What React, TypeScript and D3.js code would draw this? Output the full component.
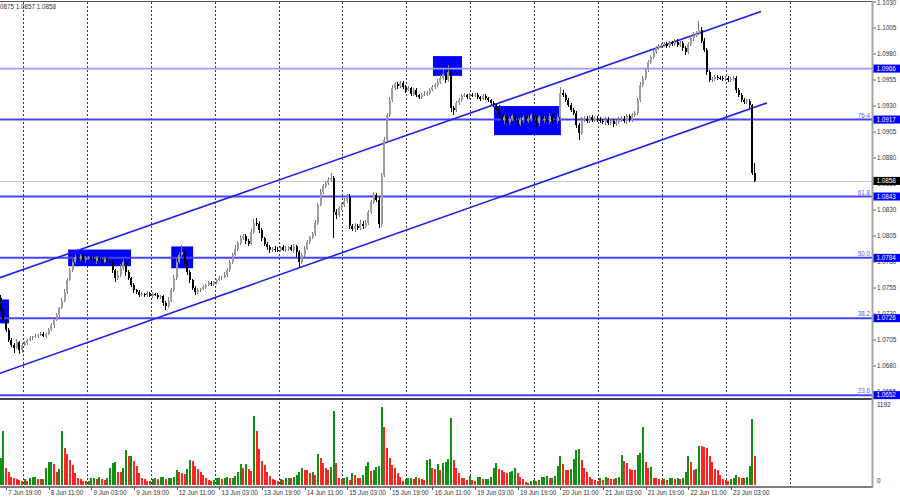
import React from 'react';
import * as d3 from 'd3';

// ---------- data (EURUSD H1, 7 Jun 17:00 → 23 Jun 12:00) ----------
const firstOpen = 1.0745;
const closes = [
  1.0734, 1.0724, 1.0715, 1.0705,
  1.0700, 1.0697, 1.0703, 1.0695, 1.0700,
  1.0702, 1.0705, 1.0707, 1.0708, 1.0709, 1.0710, 1.0711, 1.0709, 1.0711, 1.0715,
  1.0719, 1.0724, 1.0729, 1.0736, 1.0743, 1.0751, 1.0763, 1.0772, 1.0780,
  1.0785, 1.0783, 1.0786, 1.0782, 1.0784, 1.0785, 1.0783, 1.0781, 1.0784, 1.0782, 1.0780, 1.0783, 1.0781, 1.0779,
  1.0772, 1.0765, 1.0768, 1.0774, 1.0780, 1.0770,
  1.0765, 1.0758, 1.0753, 1.0751, 1.0748,
  1.0749, 1.0748, 1.0750, 1.0747, 1.0749, 1.0748, 1.0746, 1.0747,
  1.0741, 1.0738, 1.0743,
  1.0753, 1.0765, 1.0780, 1.0787, 1.0790,
  1.0780, 1.0770, 1.0763, 1.0755, 1.0751,
  1.0753, 1.0754, 1.0756, 1.0758, 1.0760, 1.0759, 1.0761,
  1.0763, 1.0765, 1.0766, 1.0768, 1.0772,
  1.0780, 1.0787, 1.0793, 1.0798, 1.0803, 1.0805, 1.0800,
  1.0797, 1.0809, 1.0818, 1.0817, 1.0811,
  1.0803, 1.0797, 1.0794, 1.0792, 1.0793, 1.0792,
  1.0792, 1.0794, 1.0792, 1.0793, 1.0794, 1.0792, 1.0795, 1.0790, 1.0780,
  1.0787, 1.0793, 1.0799, 1.0804, 1.0807,
  1.0818, 1.0835, 1.0847, 1.0853, 1.0856, 1.0859, 1.0861,
  1.0828, 1.0825,
  1.0832, 1.0835, 1.0839, 1.0843,
  1.0815, 1.0812, 1.0815, 1.0813, 1.0817, 1.0815, 1.0818,
  1.0828, 1.0838, 1.0844, 1.0840, 1.0817,
  1.0864, 1.0897, 1.0921, 1.0936,
  1.0947, 1.0951, 1.0949, 1.0952,
  1.0948, 1.0945, 1.0947, 1.0942, 1.0945, 1.0941, 1.0939,
  1.0941, 1.0942, 1.0943, 1.0945, 1.0948, 1.0950, 1.0953,
  1.0957, 1.0961, 1.0955, 1.0963,
  1.0928, 1.0926,
  1.0933, 1.0936, 1.0940, 1.0941, 1.0939, 1.0941, 1.0940,
  1.0941, 1.0939, 1.0937, 1.0940, 1.0938, 1.0936,
  1.0933, 1.0931, 1.0928,
  1.0921, 1.0917, 1.0919, 1.0915, 1.0918, 1.0920, 1.0917, 1.0913, 1.0917, 1.0919, 1.0916, 1.0918,
  1.0921, 1.0917, 1.0914, 1.0919, 1.0917, 1.0918, 1.0915, 1.0920, 1.0917, 1.0916, 1.0919,
  1.0943, 1.0941, 1.0936,
  1.0931, 1.0926, 1.0923, 1.0912, 1.0904,
  1.0917, 1.0918, 1.0916, 1.0919, 1.0917, 1.0918, 1.0917,
  1.0916, 1.0915, 1.0917, 1.0914, 1.0916, 1.0913, 1.0915, 1.0917,
  1.0918, 1.0916, 1.0920, 1.0917, 1.0921, 1.0923,
  1.0936, 1.0950, 1.0957, 1.0965, 1.0972,
  1.0977, 1.0982, 1.0986, 1.0988,
  1.0989, 1.0990, 1.0988, 1.0991, 1.0990, 1.0992, 1.0989, 1.0991, 1.0986, 1.0982, 1.0990,
  1.0995, 1.0998, 1.1000, 1.1003, 1.0993,
  1.0984, 1.0963,
  1.0955, 1.0956, 1.0958, 1.0957,
  1.0957, 1.0956, 1.0957, 1.0955, 1.0956, 1.0957,
  1.0945, 1.0941, 1.0936, 1.0934, 1.0935, 1.0931,
  1.0866,
  1.0858,
];
// upper / lower shadow lengths in pips
const wickUp = [
  3, 2, 1, 2,
  2, 2, 3, 1, 2,
  2, 1, 2, 1, 2, 1, 2, 2, 1, 2,
  2, 1, 2, 1, 2, 3, 2, 2, 3,
  3, 2, 2, 3, 2, 1, 2, 3, 2, 1, 3, 2, 2, 2,
  2, 1, 3, 4, 3, 2,
  2, 1, 2, 1, 2,
  2, 1, 2, 1, 2, 1, 2, 1,
  1, 2, 3,
  2, 3, 4, 3, 6,
  2, 1, 2, 1, 2,
  2, 1, 2, 1, 2, 2, 1,
  1, 2, 1, 2, 2,
  2, 2, 3, 2, 3, 2, 2,
  2, 3, 3, 4, 2,
  2, 1, 2, 2, 1, 2,
  2, 1, 2, 2, 1, 2, 2, 1, 2,
  2, 2, 2, 1, 2,
  2, 2, 3, 2, 2, 3, 5,
  2, 3,
  2, 2, 3, 2,
  2, 2, 3, 2, 3, 2, 2,
  2, 2, 3, 2, 3,
  2, 3, 2, 3,
  3, 2, 2, 2,
  2, 2, 2, 1, 2, 2, 1,
  2, 2, 1, 2, 2, 2, 3,
  3, 5, 2, 6,
  2, 2,
  2, 2, 2, 2, 1, 2, 2,
  2, 2, 1, 2, 2, 1,
  1, 2, 1,
  3, 2, 2, 3, 2, 2, 2, 3, 2, 2, 3, 2, 2, 3, 2, 2, 3, 2, 2, 3, 2, 2, 3,
  5, 2, 2,
  2, 2, 2, 2, 2,
  2, 2, 2, 2, 2, 2, 2,
  2, 2, 2, 2, 2, 2, 2, 2,
  2, 2, 2, 2, 2, 2,
  2, 3, 2, 2, 2,
  2, 2, 2, 2,
  2, 2, 2, 2, 2, 2, 2, 2, 2, 2, 2,
  2, 3, 2, 9, 3,
  2, 2,
  2, 2, 2, 2,
  2, 2, 2, 2, 2, 2,
  2, 2, 2, 2, 2, 2,
  1,
  9,
];
const wickDn = [
  1, 2, 2, 2,
  2, 4, 1, 3, 2,
  1, 2, 1, 2, 1, 2, 1, 1, 2, 1,
  1, 2, 1, 2, 1, 1, 2, 1, 2,
  2, 3, 2, 2, 3, 2, 2, 1, 3, 2, 2, 1, 2, 2,
  3, 4, 2, 2, 2, 3,
  2, 2, 3, 2, 2,
  1, 2, 2, 1, 2, 1, 2, 2,
  3, 4, 2,
  1, 2, 2, 2, 2,
  2, 2, 3, 2, 3,
  2, 2, 1, 2, 1, 2, 2,
  2, 1, 2, 1, 2,
  2, 2, 1, 2, 2, 2, 3,
  2, 1, 2, 2, 3,
  3, 2, 2, 3, 2, 2,
  2, 2, 1, 2, 2, 1, 3, 5, 6,
  2, 2, 1, 2, 2,
  2, 2, 1, 2, 2, 2, 2,
  25, 4,
  2, 2, 2, 2,
  3, 2, 3, 2, 2, 3, 2,
  2, 2, 2, 2, 4,
  3, 2, 2, 2,
  2, 2, 3, 2,
  2, 2, 1, 2, 2, 2, 2,
  2, 1, 2, 2, 1, 2, 2,
  2, 2, 3, 2,
  4, 5,
  2, 2, 2, 1, 2, 2, 1,
  1, 2, 2, 1, 2, 2,
  2, 2, 2,
  3, 2, 4, 2, 3, 2, 5, 3, 2, 3, 2, 2, 3, 2, 4, 3, 2, 3, 4, 2, 3, 2, 3,
  2, 2, 2,
  2, 2, 2, 3, 7,
  2, 2, 2, 2, 2, 2, 2,
  2, 2, 3, 2, 2, 3, 2, 2,
  2, 2, 3, 2, 2, 2,
  2, 2, 2, 2, 2,
  2, 2, 2, 2,
  2, 2, 2, 2, 2, 2, 2, 2, 3, 3, 2,
  2, 2, 2, 2, 2,
  2, 3,
  2, 2, 2, 2,
  2, 2, 2, 2, 2, 2,
  2, 2, 2, 2, 2, 3,
  2,
  1,
];
const volumes = [
  390, 780, 245, 186, 123, 98, 83, 74, 64, 83,
  64, 108, 113, 115, 83, 80, 88, 245, 333, 335,
  309, 186, 235, 780, 545, 455, 368, 294, 172, 98,
  83, 64, 54, 64, 98, 100, 83, 113, 83, 74,
  98, 245, 319, 333, 196, 186, 245, 515, 416, 426,
  343, 270, 172, 98, 83, 64, 59, 83, 108, 83,
  113, 123, 83, 98, 108, 123, 211, 186, 172, 160,
  230, 358, 343, 279, 230, 186, 147, 98, 74, 59,
  74, 98, 108, 88, 98, 113, 98, 108, 132, 196,
  309, 250, 300, 230, 200, 1000, 780, 524, 343, 294,
  196, 132, 83, 74, 64, 83, 74, 98, 108, 98,
  113, 140, 196, 245, 221, 211, 172, 196, 147, 455,
  390, 319, 240, 221, 260, 1070, 319, 98, 88, 98,
  113, 70, 180, 140, 100, 98, 140, 270, 330, 200,
  220, 260, 270, 1130, 840, 539, 390, 294, 245, 172,
  123, 64, 83, 98, 108, 88, 113, 98, 83, 74,
  368, 372, 240, 230, 300, 221, 319, 330, 377, 980,
  368, 245, 172, 98, 95, 74, 132, 74, 64, 113,
  115, 83, 85, 88, 113, 245, 319, 230, 211, 186,
  180, 196, 200, 245, 172, 123, 83, 39, 34, 64,
  74, 59, 74, 113, 123, 132, 98, 100, 132, 279,
  416, 309, 221, 215, 230, 377, 505, 524, 358, 245,
  196, 123, 83, 74, 59, 98, 74, 123, 98, 88,
  83, 98, 123, 441, 343, 319, 230, 221, 211, 441,
  466, 840, 328, 245, 260, 98, 95, 83, 74, 88,
  74, 98, 100, 83, 98, 83, 98, 191, 416, 328,
  221, 230, 573, 563, 554, 539, 416, 328, 230, 221,
  147, 83, 74, 59, 88, 98, 147, 123, 98, 108,
  113, 279, 960, 416,
];
const volumeMax = 1192;

const timeLabels = [
  '7 Jun 19:00', '8 Jun 11:00', '9 Jun 03:00', '9 Jun 19:00', '12 Jun 11:00', '13 Jun 03:00',
  '13 Jun 19:00', '14 Jun 11:00', '15 Jun 03:00', '15 Jun 19:00', '16 Jun 11:00', '19 Jun 03:00',
  '19 Jun 19:00', '20 Jun 11:00', '21 Jun 03:00', '21 Jun 19:00', '22 Jun 11:00', '23 Jun 03:00',
];
const firstLabelBar = 2;
const labelEveryBars = 16;
const gridFirstBar = 8.25;
const gridEveryBars = 24;
const gridCount = 13;

const priceTicks = [1.1030, 1.1005, 1.0980, 1.0955, 1.0930, 1.0905, 1.0880, 1.0855, 1.0830,
  1.0805, 1.0780, 1.0755, 1.0730, 1.0705, 1.0680, 1.0655];

const levelPrices = [1.0966, 1.0917, 1.0843, 1.0784, 1.0726, 1.0652];
const fibLabels = ['', '76.4', '61.8', '50.0', '38.2', '23.6'];
const lastPrice = 1.0858;
const headerText = '0875 1.0857 1.0858';

const zoneStartBar = [-0.3, 25.3, 64.0, 162.2, 185.1];
const zoneEndBar = [3.1, 48.9, 72.2, 173.1, 210.2];
const zoneTopPrice = [1.0744, 1.0792, 1.0795, 1.0978, 1.0930];
const zoneBottomPrice = [1.0721, 1.0776, 1.0774, 1.0959, 1.0902];

const channelUpper = [[-0.3, 1.0765], [285.3, 1.1021]];
const channelLower = [[-0.3, 1.0673], [287.5, 1.0933]];

// ---------- component ----------
export default function App() {
  const W = 900, H = 500;
  const plotRight = 872;
  const font = '"Liberation Sans", Arial, sans-serif';
  const fs = 6.3;

  const x = d3.scaleLinear().domain([0, 283]).range([0.7, 754.9]);
  const y = d3.scaleLinear().domain([1.06483, 1.1031]).range([399, 1]);
  const yv = d3.scaleLinear().domain([0, volumeMax]).range([485, 403]);
  const pip = 0.0001;

  const bars = closes.map((c, i) => {
    const o = i === 0 ? firstOpen : closes[i - 1];
    const hi = Math.max(o, c) + wickUp[i] * pip;
    const lo = Math.min(o, c) - wickDn[i] * pip;
    return { i, o, c, hi, lo, up: c > o };
  });

  const line = d3.line<number[]>().x(d => x(d[0])).y(d => y(d[1]));

  return (
    <svg width={W} height={H} style={{ position: 'absolute', left: 0, top: 0, background: '#fff' }}
      fontFamily={font}>
      <defs>
        <clipPath id="mainClip"><rect x={0} y={1} width={plotRight} height={398} /></clipPath>
      </defs>
      <rect x={0} y={0} width={W} height={H} fill="#fff" />

      {/* vertical dashed grid */}
      {d3.range(gridCount).map(k => {
        const gx = Math.round(x(gridFirstBar + gridEveryBars * k)) + 0.5;
        return <line key={'g' + k} x1={gx} x2={gx} y1={2} y2={487} stroke="#3a3a3a"
          strokeWidth={1} strokeDasharray="2,2" />;
      })}

      <g clipPath="url(#mainClip)">
        {/* zones */}
        {zoneStartBar.map((s, k) => (
          <rect key={'z' + k} x={x(s)} y={y(zoneTopPrice[k])} width={x(zoneEndBar[k]) - x(s)}
            height={y(zoneBottomPrice[k]) - y(zoneTopPrice[k])} fill="#0000f4" />
        ))}
        {/* horizontal levels */}
        {levelPrices.map((p, k) => (
          <line key={'l' + k} x1={0} x2={plotRight} y1={y(p)} y2={y(p)}
            stroke={k === 0 ? '#9c9cff' : '#4444ff'} strokeWidth={k === 0 ? 1.6 : 2} />
        ))}
        {/* current price line */}
        <line x1={0} x2={plotRight} y1={Math.round(y(lastPrice)) + 0.5} y2={Math.round(y(lastPrice)) + 0.5}
          stroke="#c8c8c8" strokeWidth={1} />
        {/* channel */}
        <path d={line(channelUpper) || ''} stroke="#1c1cf0" strokeWidth={1.6} fill="none" />
        <path d={line(channelLower) || ''} stroke="#1c1cf0" strokeWidth={1.6} fill="none" />
        {/* candles */}
        <g shapeRendering="crispEdges">
          {bars.map(b => {
            const cx = x(b.i);
            const top = y(Math.max(b.o, b.c));
            const bot = y(Math.min(b.o, b.c));
            const col = b.up ? '#9c9c9c' : '#000';
            return (
              <g key={'c' + b.i}>
                <line x1={cx} x2={cx} y1={y(b.hi)} y2={y(b.lo)} stroke={b.up ? '#7a7a7a' : '#000'} strokeWidth={1} />
                <rect x={cx - 1} y={top} width={2} height={Math.max(1, bot - top)} fill={col} />
              </g>
            );
          })}
        </g>
      </g>

      {/* fib labels */}
      {levelPrices.map((p, k) => fibLabels[k] ? (
        <text key={'f' + k} x={870} y={y(p) - 1.8} fontSize={fs} fill="#5a5aff" textAnchor="end">{fibLabels[k]}</text>
      ) : null)}

      {/* volume bars */}
      <g shapeRendering="crispEdges">
        {volumes.map((v, i) => {
          const upV = i === 0 ? true : v > volumes[i - 1];
          return <rect key={'v' + i} x={x(i) - 1} y={yv(v)} width={2} height={yv(0) - yv(v)}
            fill={upV ? '#119011' : '#ff2424'} />;
        })}
      </g>

      {/* borders */}
      <line x1={0} x2={plotRight} y1={1.5} y2={1.5} stroke="#555" strokeWidth={1} />
      <line x1={0} x2={plotRight + 1} y1={399} y2={399} stroke="#444" strokeWidth={2} />
      <line x1={0} x2={plotRight + 1} y1={487} y2={487} stroke="#555" strokeWidth={1.5} />
      <line x1={plotRight + 0.5} x2={plotRight + 0.5} y1={1} y2={488} stroke="#a4a4a4" strokeWidth={2} />

      {/* price axis */}
      {priceTicks.map((p, k) => (
        <g key={'t' + k}>
          <line x1={873.5} x2={876} y1={y(p)} y2={y(p)} stroke="#555" strokeWidth={1} />
          <text x={877} y={Math.max(y(p), 3.2)} dy="0.35em" fontSize={fs} fill="#333">{p.toFixed(4)}</text>
        </g>
      ))}
      {/* level tags */}
      {levelPrices.map((p, k) => (
        <g key={'tag' + k}>
          <rect x={873.5} y={y(p) - 4} width={26.5} height={8} fill="#0000ff" />
          <text x={876.5} y={y(p)} dy="0.35em" fontSize={fs} fill="#fff">{p.toFixed(4)}</text>
        </g>
      ))}
      <rect x={873.5} y={y(lastPrice) - 4} width={26.5} height={8} fill="#000" />
      <text x={876.5} y={y(lastPrice)} dy="0.35em" fontSize={fs} fill="#fff">{lastPrice.toFixed(4)}</text>

      {/* volume axis */}
      <text x={877} y={yv(volumeMax) + 1.5} dy="0.35em" fontSize={fs} fill="#222">{volumeMax}</text>
      <text x={877} y={481} dy="0.35em" fontSize={fs} fill="#222">0</text>

      {/* time axis */}
      {timeLabels.map((t, k) => {
        const bx = x(firstLabelBar + labelEveryBars * k);
        return (
          <g key={'x' + k}>
            <line x1={Math.round(bx) + 0.5} x2={Math.round(bx) + 0.5} y1={487} y2={490} stroke="#555" />
            <text x={bx + 2.2} y={495} fontSize={fs} fill="#333">{t}</text>
          </g>
        );
      })}

      {/* header */}
      <text x={0} y={8.5} fontSize={fs} fill="#333">{headerText}</text>
    </svg>
  );
}
